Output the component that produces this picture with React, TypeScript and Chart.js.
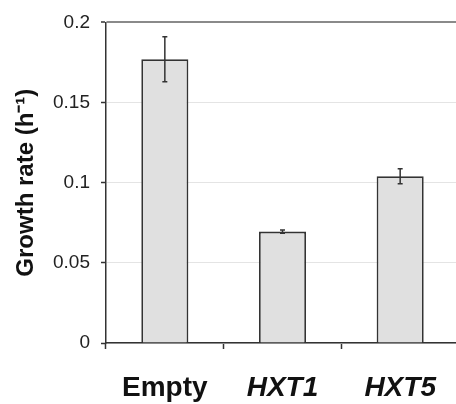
import React, { useEffect, useRef } from 'react';
import { Chart, registerables } from 'chart.js';

Chart.register(...registerables);

const categories = ['Empty', 'HXT1', 'HXT5'];
const growthRates = [0.177, 0.0695, 0.104];
const errors = [0.014, 0.001, 0.0047];
const yMin = 0;
const yMax = 0.2;
const yStep = 0.05;
const yTitle = 'Growth rate (h\u207B\u00B9)';

const FONT = "'Liberation Sans', Arial, sans-serif";

const errorBarPlugin = {
  id: 'errorBars',
  afterDatasetsDraw(chart: any) {
    const ctx = chart.ctx;
    const xs = chart.scales.x;
    const ys = chart.scales.y;
    ctx.save();
    ctx.strokeStyle = '#333';
    ctx.lineWidth = 1.5;
    growthRates.forEach((v, i) => {
      const px = xs.getPixelForValue(i);
      const top = ys.getPixelForValue(v + errors[i]);
      const bot = ys.getPixelForValue(v - errors[i]);
      ctx.beginPath();
      ctx.moveTo(px, top);
      ctx.lineTo(px, bot);
      ctx.moveTo(px - 2.5, top);
      ctx.lineTo(px + 2.5, top);
      ctx.moveTo(px - 2.5, bot);
      ctx.lineTo(px + 2.5, bot);
      ctx.stroke();
    });
    ctx.restore();
  },
};

export default function App() {
  const ref = useRef<HTMLCanvasElement | null>(null);
  useEffect(() => {
    if (!ref.current) return;
    const chart = new Chart(ref.current, {
      type: 'bar',
      data: {
        labels: categories,
        datasets: [
          {
            data: growthRates,
            backgroundColor: '#e0e0e0',
            borderColor: '#333',
            borderWidth: 1.8,
            barPercentage: 0.4,
            categoryPercentage: 1,
          },
        ],
      },
      options: {
        responsive: false,
        animation: false,
        devicePixelRatio: 1,
        layout: { padding: { top: 20, right: 0, bottom: 0, left: 0 } },
        plugins: {
          legend: { display: false },
          tooltip: { enabled: false },
        },
        scales: {
          x: {
            offset: true,
            afterFit: (s: any) => {
              s.height = 61;
            },
            grid: {
              display: true,
              offset: true,
              drawOnChartArea: false,
              drawTicks: true,
              tickLength: 6,
              tickColor: '#333',
              tickWidth: 1.5,
            },
            border: { display: true, color: '#333', width: 1.5 },
            ticks: {
              padding: 22,
              color: '#111',
              font: (c: any) => ({
                family: FONT,
                size: 28,
                weight: 'bold',
                style: c.index === 0 ? 'normal' : 'italic',
              }),
            },
          },
          y: {
            min: yMin,
            max: yMax,
            afterFit: (s: any) => {
              s.width = 106;
            },
            grid: {
              color: (c: any) => (c.tick && Math.abs(c.tick.value - yMax) < 1e-9 ? '#8a8a8a' : '#e4e4e4'),
              lineWidth: (c: any) => (c.tick && Math.abs(c.tick.value - yMax) < 1e-9 ? 2 : 1),
              drawTicks: true,
              tickLength: 5,
              tickColor: '#333',
              tickWidth: 1.5,
            },
            border: { display: true, color: '#333', width: 1.5 },
            ticks: {
              stepSize: yStep,
              padding: 11,
              color: '#222',
              font: { family: FONT, size: 19 },
              callback: (v: any) => String(+Number(v).toFixed(2)),
            },
            title: {
              display: true,
              text: yTitle,
              color: '#111',
              font: { family: FONT, size: 24, weight: 'bold' },
              padding: { top: 12, bottom: 0 },
            },
          },
        },
      },
      plugins: [errorBarPlugin],
    });
    return () => chart.destroy();
  }, []);
  return (
    <div style={{ position: 'fixed', left: 0, top: 0, width: 456, height: 404, overflow: 'hidden', background: '#fff' }}>
      <canvas ref={ref} width={459} height={404} style={{ display: 'block' }} />
    </div>
  );
}
